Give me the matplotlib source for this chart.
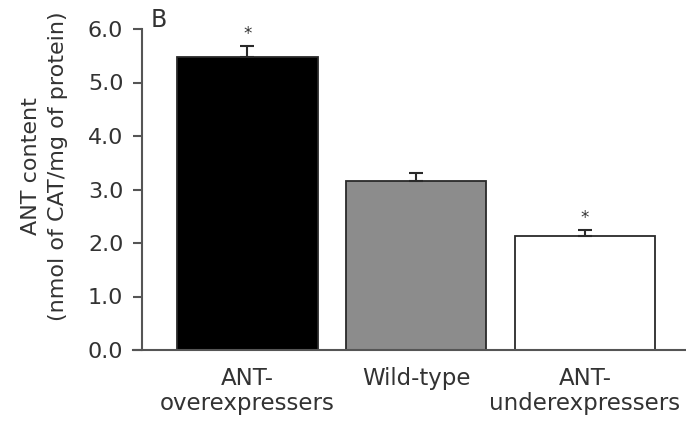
"""ANT content bar chart (panel B)."""

import matplotlib.pyplot as plt
import numpy as np

# --------------------------------------------------------------------------
# data
# --------------------------------------------------------------------------
groups = ["ANT-\noverexpressers", "Wild-type", "ANT-\nunderexpressers"]
ant_content = [5.48, 3.16, 2.13]
ant_err = [0.21, 0.15, 0.11]
significant = [True, False, True]
bar_colors = ["#000000", "#8c8c8c", "#ffffff"]
yticks = [0.0, 1.0, 2.0, 3.0, 4.0, 5.0, 6.0]

plt.rcParams["font.family"] = ["DejaVu Sans"]

fig = plt.figure(figsize=(6.86, 4.21), dpi=100)
ax = fig.add_axes([133 / 686, 71 / 421, 553 / 686, 321 / 421])

x = np.arange(len(groups))
ax.bar(x, ant_content, width=0.83, color=bar_colors, edgecolor="#2a2a2a",
       linewidth=1.3, zorder=2)
ax.errorbar(x, ant_content, yerr=[np.zeros(len(x)), ant_err], fmt="none",
            ecolor="#2a2a2a", elinewidth=1.5, capsize=5, capthick=1.5, zorder=3)

# 显著性星号
for xi, v, e, sig in zip(x, ant_content, ant_err, significant):
    if sig:
        ax.text(xi, v + e + 0.22, "*", ha="center", va="center", fontsize=12,
                color="#333333")

ax.set_xlim(-0.678, 2.598)
ax.set_ylim(0, 6.0)
ax.set_yticks(yticks)
ax.set_yticklabels([f"{t:.1f}" for t in yticks])
ax.set_xticks(x)
ax.set_xticklabels(groups, va="top", linespacing=1.15)

for s in ["top", "right"]:
    ax.spines[s].set_visible(False)
ax.spines["left"].set_position(("data", -0.624))
for s in ["left", "bottom"]:
    ax.spines[s].set_color("#555555")
    ax.spines[s].set_linewidth(1.5)
ax.tick_params(axis="y", length=6.5, width=1.5, color="#555555", labelsize=16,
               labelcolor="#333333", pad=7)
ax.tick_params(axis="x", length=0, labelsize=16.5, labelcolor="#333333", pad=12)

ax.set_ylabel("ANT content\n(nmol of CAT/mg of protein)", fontsize=16,
              color="#333333", linespacing=1.45)
ax.yaxis.set_label_coords(-0.117, 0.573)

fig.text(159 / 686, 1 - 20 / 421, "B", fontsize=17, color="#333333",
         ha="center", va="center")

fig.savefig("out.png", dpi=100)
